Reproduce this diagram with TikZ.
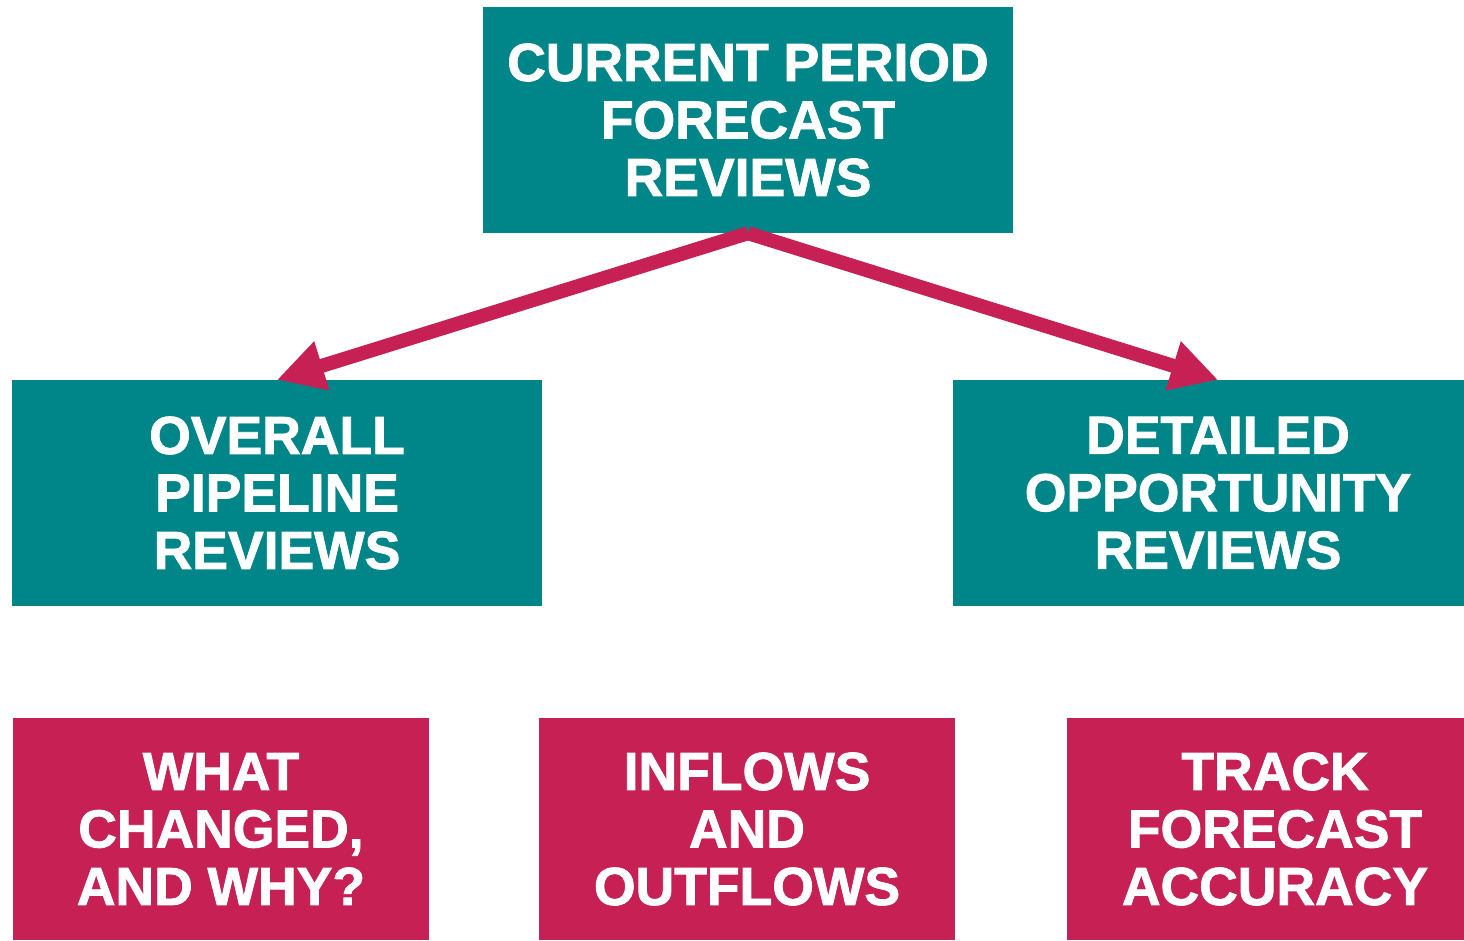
\documentclass[tikz,border=0pt]{standalone}
\usepackage{fontspec}
\setmainfont{Liberation Sans}[BoldFeatures={FakeBold=1.6}]
\usetikzlibrary{arrows.meta, positioning}
\definecolor{reviewteal}{RGB}{0,134,136}
\definecolor{taskred}{RGB}{198,32,84}

\begin{document}
\begin{tikzpicture}[x=1pt, y=1pt,
        box/.style = {text=white, align=center, inner sep=0pt,
                      font=\fontsize{53.5}{57.5}\selectfont\bfseries},
        review/.style = {box, fill=reviewteal, minimum width=530,
                         minimum height=226},
        task/.style = {box, fill=taskred, minimum width=416,
                       minimum height=222},
        link/.style = {draw=taskred, line width=14pt,
                       -{Triangle[length=47pt, width=48pt]}}]
        \useasboundingbox (0,0) rectangle (1464,-941);

        % reviews (the right column runs off the page edge)
        \node[review] (current) at (748,-120)
                {CURRENT PERIOD\\FORECAST\\REVIEWS};
        \node[review] (pipeline) at (277,-493)
                {OVERALL\\PIPELINE\\REVIEWS};
        \node[review] (detailed) at (1218,-493)
                {DETAILED\\OPPORTUNITY\\REVIEWS};

        \node[task] (changed) at (221,-829)
                {WHAT\\CHANGED,\\AND WHY?};
        \node[task] (flows) at (747,-829)
                {INFLOWS\\AND\\OUTFLOWS};
        \node[task] (accuracy) at (1275,-829)
                {TRACK\\FORECAST\\ACCURACY};

        \draw[link] (current.south) -- (pipeline.north);
        \draw[link] (current.south) -- (detailed.north);
    \end{tikzpicture}
\end{document}
